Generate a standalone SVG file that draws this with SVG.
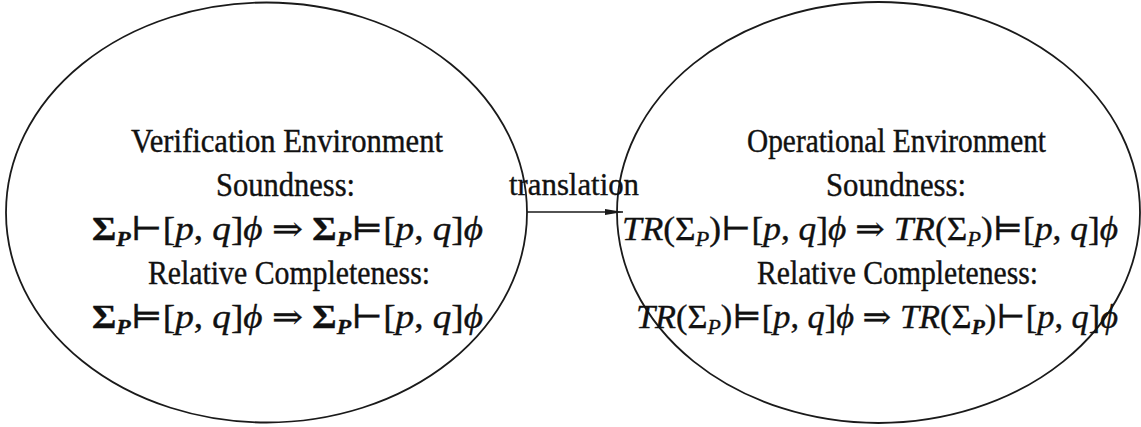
<svg xmlns="http://www.w3.org/2000/svg" width="1141" height="427" viewBox="0 0 1141 427">
  <style>
    .env { fill: none; stroke: #1a1a1a; stroke-width: 1.8; }
    .lbl { font-family: "Liberation Serif", "DejaVu Serif", serif; font-size: 33px; fill: #111; stroke: #111; stroke-width: 0.4; }
    .f { font-family: "Liberation Serif", "DejaVu Serif", serif; font-size: 33px; fill: #111; stroke: #111; stroke-width: 0.35; }
    .it { font-style: italic; }
    .b { font-weight: bold; }
    .sub { font-size: 21px; }
    .edge { stroke: #1a1a1a; stroke-width: 1.3; fill: none; }
    .edge-lbl { font-family: "Liberation Serif", "DejaVu Serif", serif; font-size: 31px; fill: #111; stroke: #111; stroke-width: 0.35; }
  </style>
  <defs>
    <marker id="head" viewBox="0 0 18 8" refX="18" refY="4" markerWidth="18" markerHeight="8" markerUnits="userSpaceOnUse" orient="auto">
      <path d="M0,1 L18,4 L0,7 Z" fill="#1a1a1a"/>
    </marker>
  </defs>

  <rect width="1141" height="427" fill="#ffffff"/>

  <!-- Verification environment -->
  <g id="verification">
    <ellipse class="env" cx="266.5" cy="212.5" rx="260.5" ry="210"/>
    <text class="lbl" x="131" y="152" textLength="312" lengthAdjust="spacingAndGlyphs">Verification Environment</text>
    <text class="lbl" x="216" y="196" textLength="139" lengthAdjust="spacingAndGlyphs">Soundness:</text>
    <text class="f" x="92" y="240" textLength="391" lengthAdjust="spacingAndGlyphs"><tspan class="b">Σ</tspan><tspan class="b it sub" dy="6">P</tspan><tspan dy="-6">⊢[</tspan><tspan class="it">p</tspan>, <tspan class="it">q</tspan>]<tspan class="it">ϕ</tspan> ⇒ <tspan class="b">Σ</tspan><tspan class="b it sub" dy="6">P</tspan><tspan dy="-6">⊨[</tspan><tspan class="it">p</tspan>, <tspan class="it">q</tspan>]<tspan class="it">ϕ</tspan></text>
    <text class="lbl" x="148" y="284" textLength="282" lengthAdjust="spacingAndGlyphs">Relative Completeness:</text>
    <text class="f" x="92" y="328" textLength="391" lengthAdjust="spacingAndGlyphs"><tspan class="b">Σ</tspan><tspan class="b it sub" dy="6">P</tspan><tspan dy="-6">⊨[</tspan><tspan class="it">p</tspan>, <tspan class="it">q</tspan>]<tspan class="it">ϕ</tspan> ⇒ <tspan class="b">Σ</tspan><tspan class="b it sub" dy="6">P</tspan><tspan dy="-6">⊢[</tspan><tspan class="it">p</tspan>, <tspan class="it">q</tspan>]<tspan class="it">ϕ</tspan></text>
  </g>

  <!-- Operational environment -->
  <g id="operational">
    <ellipse class="env" cx="878.5" cy="212.5" rx="261.5" ry="210.5"/>
    <text class="lbl" x="747" y="152" textLength="299" lengthAdjust="spacingAndGlyphs">Operational Environment</text>
    <text class="lbl" x="826" y="196" textLength="140" lengthAdjust="spacingAndGlyphs">Soundness:</text>
    <text class="f" x="622" y="240" textLength="496" lengthAdjust="spacingAndGlyphs"><tspan class="it">TR</tspan>(Σ<tspan class="it sub" dy="6">P</tspan><tspan dy="-6">)⊢[</tspan><tspan class="it">p</tspan>, <tspan class="it">q</tspan>]<tspan class="it">ϕ</tspan> ⇒ <tspan class="it">TR</tspan>(Σ<tspan class="it sub" dy="6">P</tspan><tspan dy="-6">)⊨[</tspan><tspan class="it">p</tspan>, <tspan class="it">q</tspan>]<tspan class="it">ϕ</tspan></text>
    <text class="lbl" x="757" y="284" textLength="281" lengthAdjust="spacingAndGlyphs">Relative Completeness:</text>
    <text class="f" x="636" y="328" textLength="482" lengthAdjust="spacingAndGlyphs"><tspan class="it">TR</tspan>(Σ<tspan class="it sub" dy="6">P</tspan><tspan dy="-6">)⊨[</tspan><tspan class="it">p</tspan>, <tspan class="it">q</tspan>]<tspan class="it">ϕ</tspan> ⇒ <tspan class="it">TR</tspan>(Σ<tspan class="b it sub" dy="6">P</tspan><tspan dy="-6">)⊢[</tspan><tspan class="it">p</tspan>, <tspan class="it">q</tspan>]<tspan class="it">ϕ</tspan></text>
  </g>

  <!-- Connectors -->
  <g id="connectors">
    <line class="edge" x1="527" y1="212" x2="623" y2="212" marker-end="url(#head)"/>
    <text class="edge-lbl" x="509" y="195" textLength="130" lengthAdjust="spacingAndGlyphs">translation</text>
  </g>
</svg>
